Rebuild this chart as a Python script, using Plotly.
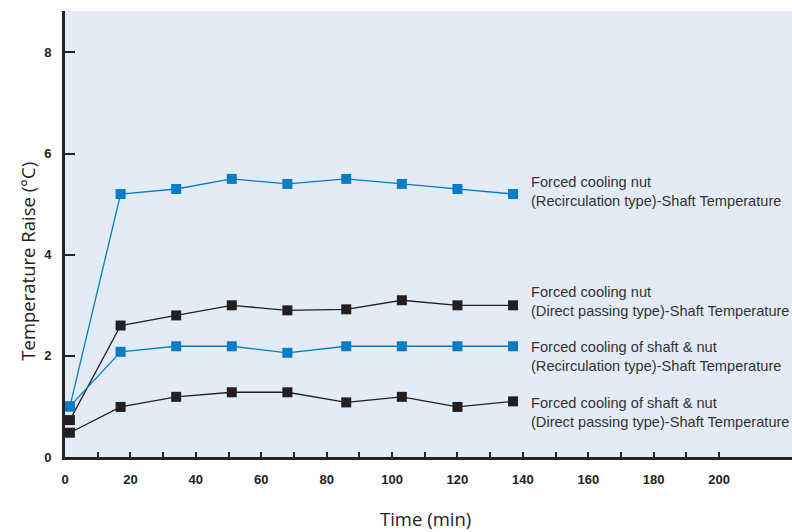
import plotly.graph_objects as go

# ---- data ----
time_min = [1.5, 17, 34, 51, 68, 86, 103, 120, 137]
nut_recirc = [1.0, 5.2, 5.3, 5.5, 5.4, 5.5, 5.4, 5.3, 5.2]
nut_direct = [0.73, 2.6, 2.8, 3.0, 2.9, 2.92, 3.1, 3.0, 3.0]
shaftnut_recirc = [1.0, 2.08, 2.19, 2.19, 2.06, 2.19, 2.19, 2.19, 2.19]
shaftnut_direct = [0.48, 0.99, 1.19, 1.28, 1.28, 1.08, 1.19, 0.99, 1.1]

series_labels = [
    "Forced cooling nut<br>(Recirculation type)-Shaft Temperature",
    "Forced cooling nut<br>(Direct passing type)-Shaft Temperature",
    "Forced cooling of shaft & nut<br>(Recirculation type)-Shaft Temperature",
    "Forced cooling of shaft & nut<br>(Direct passing type)-Shaft Temperature",
]
label_y = [5.26, 3.08, 1.99, 0.89]
label_x = 142

x_tickvals = list(range(0, 201, 10))
x_ticktext = [str(v) if v % 20 == 0 else "" for v in x_tickvals]
y_tickvals = [0, 2, 4, 6, 8]

BLUE = "#0a7cc4"
BLACK = "#231f20"

fig = go.Figure()
series = [nut_recirc, nut_direct, shaftnut_recirc, shaftnut_direct]
colors = [BLUE, BLACK, BLUE, BLACK]
for vals, col, name in zip(series, colors, series_labels):
    fig.add_trace(go.Scatter(
        x=time_min, y=vals, mode="lines+markers",
        line=dict(color=col, width=1.3),
        marker=dict(symbol="square", size=10, color=col),
        name=name, showlegend=False,
    ))

for txt, yv in zip(series_labels, label_y):
    fig.add_annotation(x=label_x, y=yv, xref="x", yref="y", text=txt,
                       showarrow=False, xanchor="left", yanchor="middle",
                       align="left",
                       font=dict(family="Liberation Sans, Arial", size=14.6, color="#333333"))

fig.add_annotation(x=0.496, y=-0.138, xref="paper", yref="paper", text="Time (min)",
                   showarrow=False, xanchor="center", yanchor="middle",
                   font=dict(family="Open Sans", size=18.5, color="#222222"))
fig.add_annotation(x=-0.051, y=0.44, xref="paper", yref="paper",
                   text="Temperature Raise (°C)", textangle=-90,
                   showarrow=False, xanchor="center", yanchor="middle",
                   font=dict(family="Open Sans", size=18.5, color="#222222"))

fig.update_layout(
    width=792, height=532,
    margin=dict(l=65, r=0, t=11, b=75),
    paper_bgcolor="white", plot_bgcolor="#e3ebf6",
    xaxis=dict(range=[0, 222.3], tickvals=x_tickvals, ticktext=x_ticktext,
               ticks="inside", ticklen=5, tickwidth=1.5, tickcolor="#222222",
               showgrid=False, zeroline=False,
               showline=True, linecolor="#222222", linewidth=3,
               ticklabelstandoff=8,
               tickfont=dict(family="Liberation Sans, Arial", size=13, color="#222222",
                             weight="bold")),
    yaxis=dict(range=[0, 8.82], tickvals=y_tickvals,
               ticks="inside", ticklen=10, tickwidth=2, tickcolor="#222222",
               showgrid=False, zeroline=False,
               showline=True, linecolor="#222222", linewidth=3,
               ticklabelstandoff=8,
               tickfont=dict(family="Liberation Sans, Arial", size=13, color="#222222",
                             weight="bold")),
)

fig.write_html("out.html", config={"displayModeBar": False},
               post_script="document.body.style.margin='0';document.body.style.overflow='hidden';")
